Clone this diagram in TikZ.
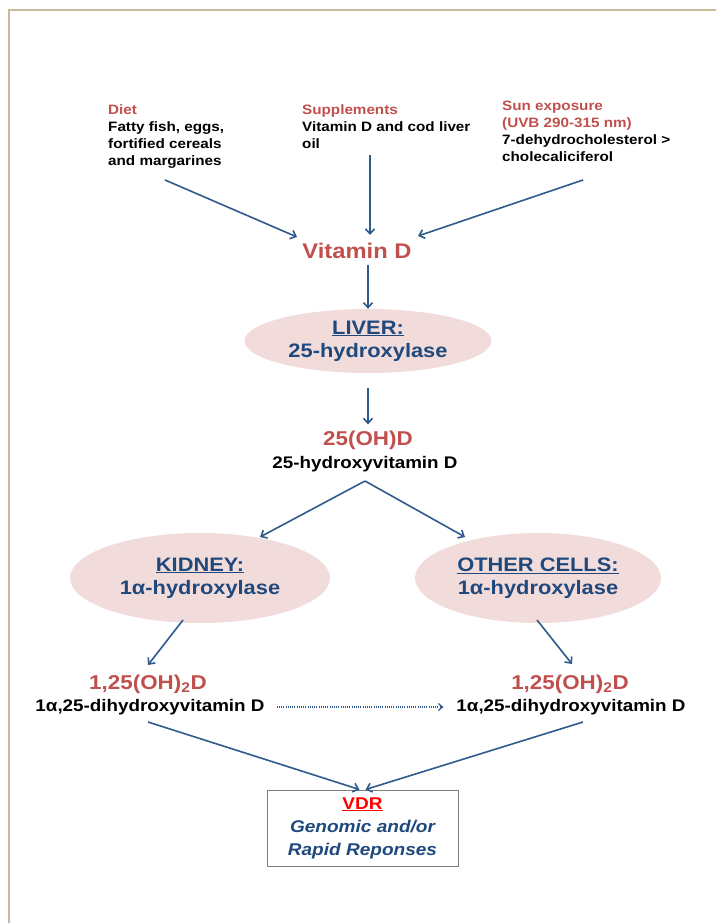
\documentclass[tikz,border=0pt]{standalone}
\usepackage{fontspec}
\setmainfont[FakeStretch=1.12]{Liberation Sans}
\usetikzlibrary{arrows.meta,shapes.geometric}
\definecolor{tred}{HTML}{C0504D}
\definecolor{tblue}{HTML}{1F497D}
\definecolor{arrc}{HTML}{2E5A8C}
\definecolor{pinkfill}{HTML}{F2DCDB}
\definecolor{framec}{HTML}{C8B99A}
\definecolor{boxc}{HTML}{7F7F7F}
\newcommand{\fs}[2]{\fontsize{#1}{#2}\selectfont}
\begin{document}
\begin{tikzpicture}[x=1pt,y=-1pt,
  arr/.style={draw=arrc, line width=1.6pt, -{Straight Barb[length=5pt,width=9pt,line width=1.6pt]}},
  src/.style={anchor=north west, align=left, inner sep=0pt, font=\bfseries\fs{13.6}{17}},
  big/.style={text=tred, font=\bfseries\fs{20}{23}, inner sep=0pt},
  sub/.style={text=black, font=\bfseries\fs{16.8}{19}, inner sep=0pt},
  organ/.style={ellipse, fill=pinkfill, draw=none, text=tblue, align=center, font=\bfseries\fs{19.5}{23}, inner sep=0pt}
]
\useasboundingbox (0,0) rectangle (716,923);
\draw[framec, line width=1.2pt] (9,923) -- (9,10) -- (716,10);

% sources
\node[src] (diet) at (108,104) {\textcolor{tred}{Diet}\\Fatty fish, eggs,\\fortified cereals\\and margarines};
\node[src] (supp) at (302,104) {\textcolor{tred}{Supplements}\\Vitamin D and cod liver\\oil};
\node[src] (sun) at (502,101) {\textcolor{tred}{Sun exposure}\\\textcolor{tred}{(UVB 290-315 nm)}\\7-dehydrocholesterol >\\cholecaliciferol};

\node[big, font=\bfseries\fs{21.2}{24}] (vitd) at (357,251) {Vitamin D};

\coordinate (d1) at (165,180); \coordinate (d2) at (297,237);
\coordinate (s1) at (370,155); \coordinate (s2) at (370,235);
\coordinate (u1) at (583,180); \coordinate (u2) at (418,236);
\draw[arr] (d1) -- (d2);
\draw[arr] (s1) -- (s2);
\draw[arr] (u1) -- (u2);

\node[organ, minimum width=247pt, minimum height=64pt] (liver) at (368,341) {\underline{LIVER:}\\25-hydroxylase};
\coordinate (va) at (368,265);
\draw[arr] (va) -- (liver.north);

\node[big] (ohd) at (368,440) {25(OH)D};
\node[sub] (ohdt) at (365,464) {25-hydroxyvitamin D};
\coordinate (la) at (368,388);
\draw[arr] (la) -- ([yshift=6pt]ohd.north);

\node[organ, minimum width=260pt, minimum height=90pt] (kid) at (200,578) {\underline{KIDNEY:}\\1α-hydroxylase};
\node[organ, minimum width=246pt, minimum height=90pt] (oth) at (538,578) {\underline{OTHER CELLS:}\\1α-hydroxylase};

\coordinate (sp) at (365,481);
\coordinate (k1) at (260,537); \coordinate (o1) at (465,537);
\draw[arr] (sp) -- (k1);
\draw[arr] (sp) -- (o1);

\node[big] (dl) at (148,684) {1,25(OH)\textsubscript{2}D};
\node[sub] (dlt) at (150,707) {1α,25-dihydroxyvitamin D};
\node[big] (dr) at (570,684) {1,25(OH)\textsubscript{2}D};
\node[sub] (drt) at (571,707) {1α,25-dihydroxyvitamin D};

\coordinate (ka) at (183,620); \coordinate (kb) at (148,665);
\coordinate (oa) at (537,620); \coordinate (ob) at (572,664);
\draw[arr] (ka) -- (kb);
\draw[arr] (oa) -- (ob);

\draw[draw=arrc, line width=1.2pt, dash pattern=on 1.1pt off 1.1pt, -{Straight Barb[length=4pt,width=7pt,line width=1.2pt]}] ([xshift=12pt]dlt.east) -- ([xshift=-13pt]drt.west);

\node[draw=boxc, line width=1pt, minimum width=191pt, minimum height=76pt, inner sep=0pt, align=center, font=\bfseries\fs{17}{23}] (vdr) at (362.5,828)
  {\textcolor{red}{\underline{VDR}}\\
   \textcolor{tblue}{\itshape Genomic and/or}\\
   \textcolor{tblue}{\itshape Rapid Reponses}};

\coordinate (l1) at (148,722); \coordinate (r1) at (583,722);
\draw[arr] (l1) -- ([xshift=-3pt]vdr.north);
\draw[arr] (r1) -- ([xshift=3pt]vdr.north);
\end{tikzpicture}
\end{document}
